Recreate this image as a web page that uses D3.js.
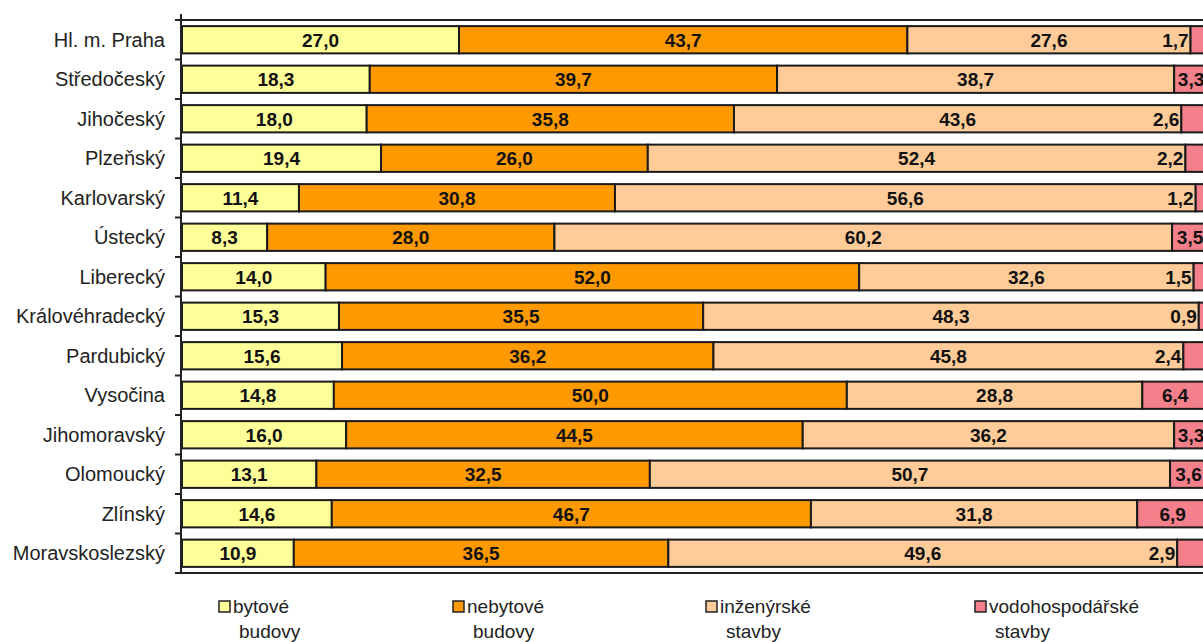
<!DOCTYPE html>
<html>
<head>
<meta charset="utf-8">
<script src="https://cdn.jsdelivr.net/npm/d3@7/dist/d3.min.js"></script>
<style>
    body{ margin:0; background:#fff; }
    svg text{ font-family:"Liberation Sans", Arial, sans-serif; }
</style>
</head>
<body>
<div id="chart"></div>
<script>
'use strict';

var regions = ['Hl. m. Praha', 'Středočeský', 'Jihočeský', 'Plzeňský', 'Karlovarský', 'Ústecký',
    'Liberecký', 'Královéhradecký', 'Pardubický', 'Vysočina', 'Jihomoravský', 'Olomoucký',
    'Zlínský', 'Moravskoslezský'];
var bytove     = [27.0, 18.3, 18.0, 19.4, 11.4,  8.3, 14.0, 15.3, 15.6, 14.8, 16.0, 13.1, 14.6, 10.9];
var nebytove   = [43.7, 39.7, 35.8, 26.0, 30.8, 28.0, 52.0, 35.5, 36.2, 50.0, 44.5, 32.5, 46.7, 36.5];
var inzenyrske = [27.6, 38.7, 43.6, 52.4, 56.6, 60.2, 32.6, 48.3, 45.8, 28.8, 36.2, 50.7, 31.8, 49.6];
var vodohosp   = [ 1.7,  3.3,  2.6,  2.2,  1.2,  3.5,  1.5,  0.9,  2.4,  6.4,  3.3,  3.6,  6.9,  2.9];
var seriesKeys = ['bytove', 'nebytove', 'inzenyrske', 'vodohosp'];
var legendLabels = [['bytové', 'budovy'], ['nebytové', 'budovy'], ['inženýrské', 'stavby'], ['vodohospodářské', 'stavby']];
var seriesColors = ['#FFFF99', '#FF9900', '#FFCC99', '#F3808A'];

var width = 1203,
    height = 642;

var spec = {
    left: 182, right: 1208,
    top: 20, bottom: 573,
    legendX: [219, 453, 706, 975],
    legendY: 601
};

var table = regions.map(function(r, i){
    return {region: r, bytove: bytove[i], nebytove: nebytove[i],
        inzenyrske: inzenyrske[i], vodohosp: vodohosp[i]};
});
var stacked = d3.stack().keys(seriesKeys)(table);

var x = d3.scaleLinear().domain([0, 100]).range([spec.left, spec.right]);
var y = d3.scaleBand().domain(regions).range([spec.top, spec.bottom]).paddingInner(0.31).paddingOuter(0.155);
var yTicks = d3.scaleBand().domain(regions).range([spec.top, spec.bottom]);

var svg = d3.select('#chart').append('svg')
    .attr('width', width).attr('height', height)
    .attr('viewBox', '0 0 '+width+' '+height);

var fmt = function(v){ return d3.format('.1f')(v).replace('.', ','); };

// bars
var layers = svg.selectAll('g.layer')
    .data(stacked).enter().append('g')
        .attr('class', 'layer')
        .attr('fill', function(d, i){ return seriesColors[i]; });

layers.selectAll('rect')
    .data(function(d){ return d; }).enter().append('rect')
        .attr('x', function(d){ return x(d[0]); })
        .attr('y', function(d){ return y(d.data.region); })
        .attr('width', function(d){ return x(d[1]) - x(d[0]); })
        .attr('height', y.bandwidth())
        .attr('stroke', '#1a1a1a')
        .attr('stroke-width', 2);

// data labels (small last segments get their label pushed left of the segment)
layers.each(function(layer, li){
    d3.select(this).selectAll('text')
        .data(layer).enter().append('text')
            .attr('x', function(d){
                var v = d[1] - d[0];
                if(li == 3 && v < 3) return x(d[0]) - 2;
                return (x(d[0]) + x(d[1]))/2;
            })
            .attr('y', function(d){ return y(d.data.region) + y.bandwidth()/2; })
            .attr('dy', '0.36em')
            .attr('text-anchor', function(d){
                return (li == 3 && d[1] - d[0] < 3) ? 'end' : 'middle';
            })
            .attr('fill', '#111')
            .style('font-size', '19px')
            .style('font-weight', 'bold')
            .text(function(d){ return fmt(d[1] - d[0]); });
});

// frame lines
svg.append('line')
    .attr('x1', spec.left - 1).attr('x2', width)
    .attr('y1', spec.top).attr('y2', spec.top)
    .attr('stroke', '#222').attr('stroke-width', 2);
svg.append('line')
    .attr('x1', spec.left - 1).attr('x2', width)
    .attr('y1', spec.bottom).attr('y2', spec.bottom)
    .attr('stroke', '#222').attr('stroke-width', 2);

// category axis
var yAxis = svg.append('g').attr('class', 'y-axis');
yAxis.append('line')
    .attr('x1', spec.left - 1).attr('x2', spec.left - 1)
    .attr('y1', spec.top - 6).attr('y2', spec.bottom)
    .attr('stroke', '#222').attr('stroke-width', 2);
yAxis.selectAll('line.tick')
    .data(regions.concat(['end'])).enter().append('line')
        .attr('class', 'tick')
        .attr('x1', spec.left - 7).attr('x2', spec.left - 1)
        .attr('y1', function(d, i){ return i < regions.length ? yTicks(d) : spec.bottom; })
        .attr('y2', function(d, i){ return i < regions.length ? yTicks(d) : spec.bottom; })
        .attr('stroke', '#222').attr('stroke-width', 2);
yAxis.selectAll('text')
    .data(regions).enter().append('text')
        .attr('x', spec.left - 17)
        .attr('y', function(d){ return y(d) + y.bandwidth()/2; })
        .attr('dy', '0.36em')
        .attr('text-anchor', 'end')
        .attr('fill', '#222')
        .style('font-size', '20px')
        .text(function(d){ return d; });

// legend
var legend = svg.selectAll('g.legend')
    .data(legendLabels).enter().append('g')
        .attr('class', 'legend')
        .attr('transform', function(d, i){ return 'translate('+spec.legendX[i]+','+spec.legendY+')'; });
legend.append('rect')
    .attr('width', 11).attr('height', 11)
    .attr('fill', function(d, i){ return seriesColors[i]; })
    .attr('stroke', '#222').attr('stroke-width', 1.5);
legend.append('text')
    .attr('x', 14).attr('y', 12)
    .attr('fill', '#222').style('font-size', '19px')
    .text(function(d){ return d[0]; });
legend.append('text')
    .attr('x', 20).attr('y', 37)
    .attr('fill', '#222').style('font-size', '19px')
    .text(function(d){ return d[1]; });
</script>
</body>
</html>
